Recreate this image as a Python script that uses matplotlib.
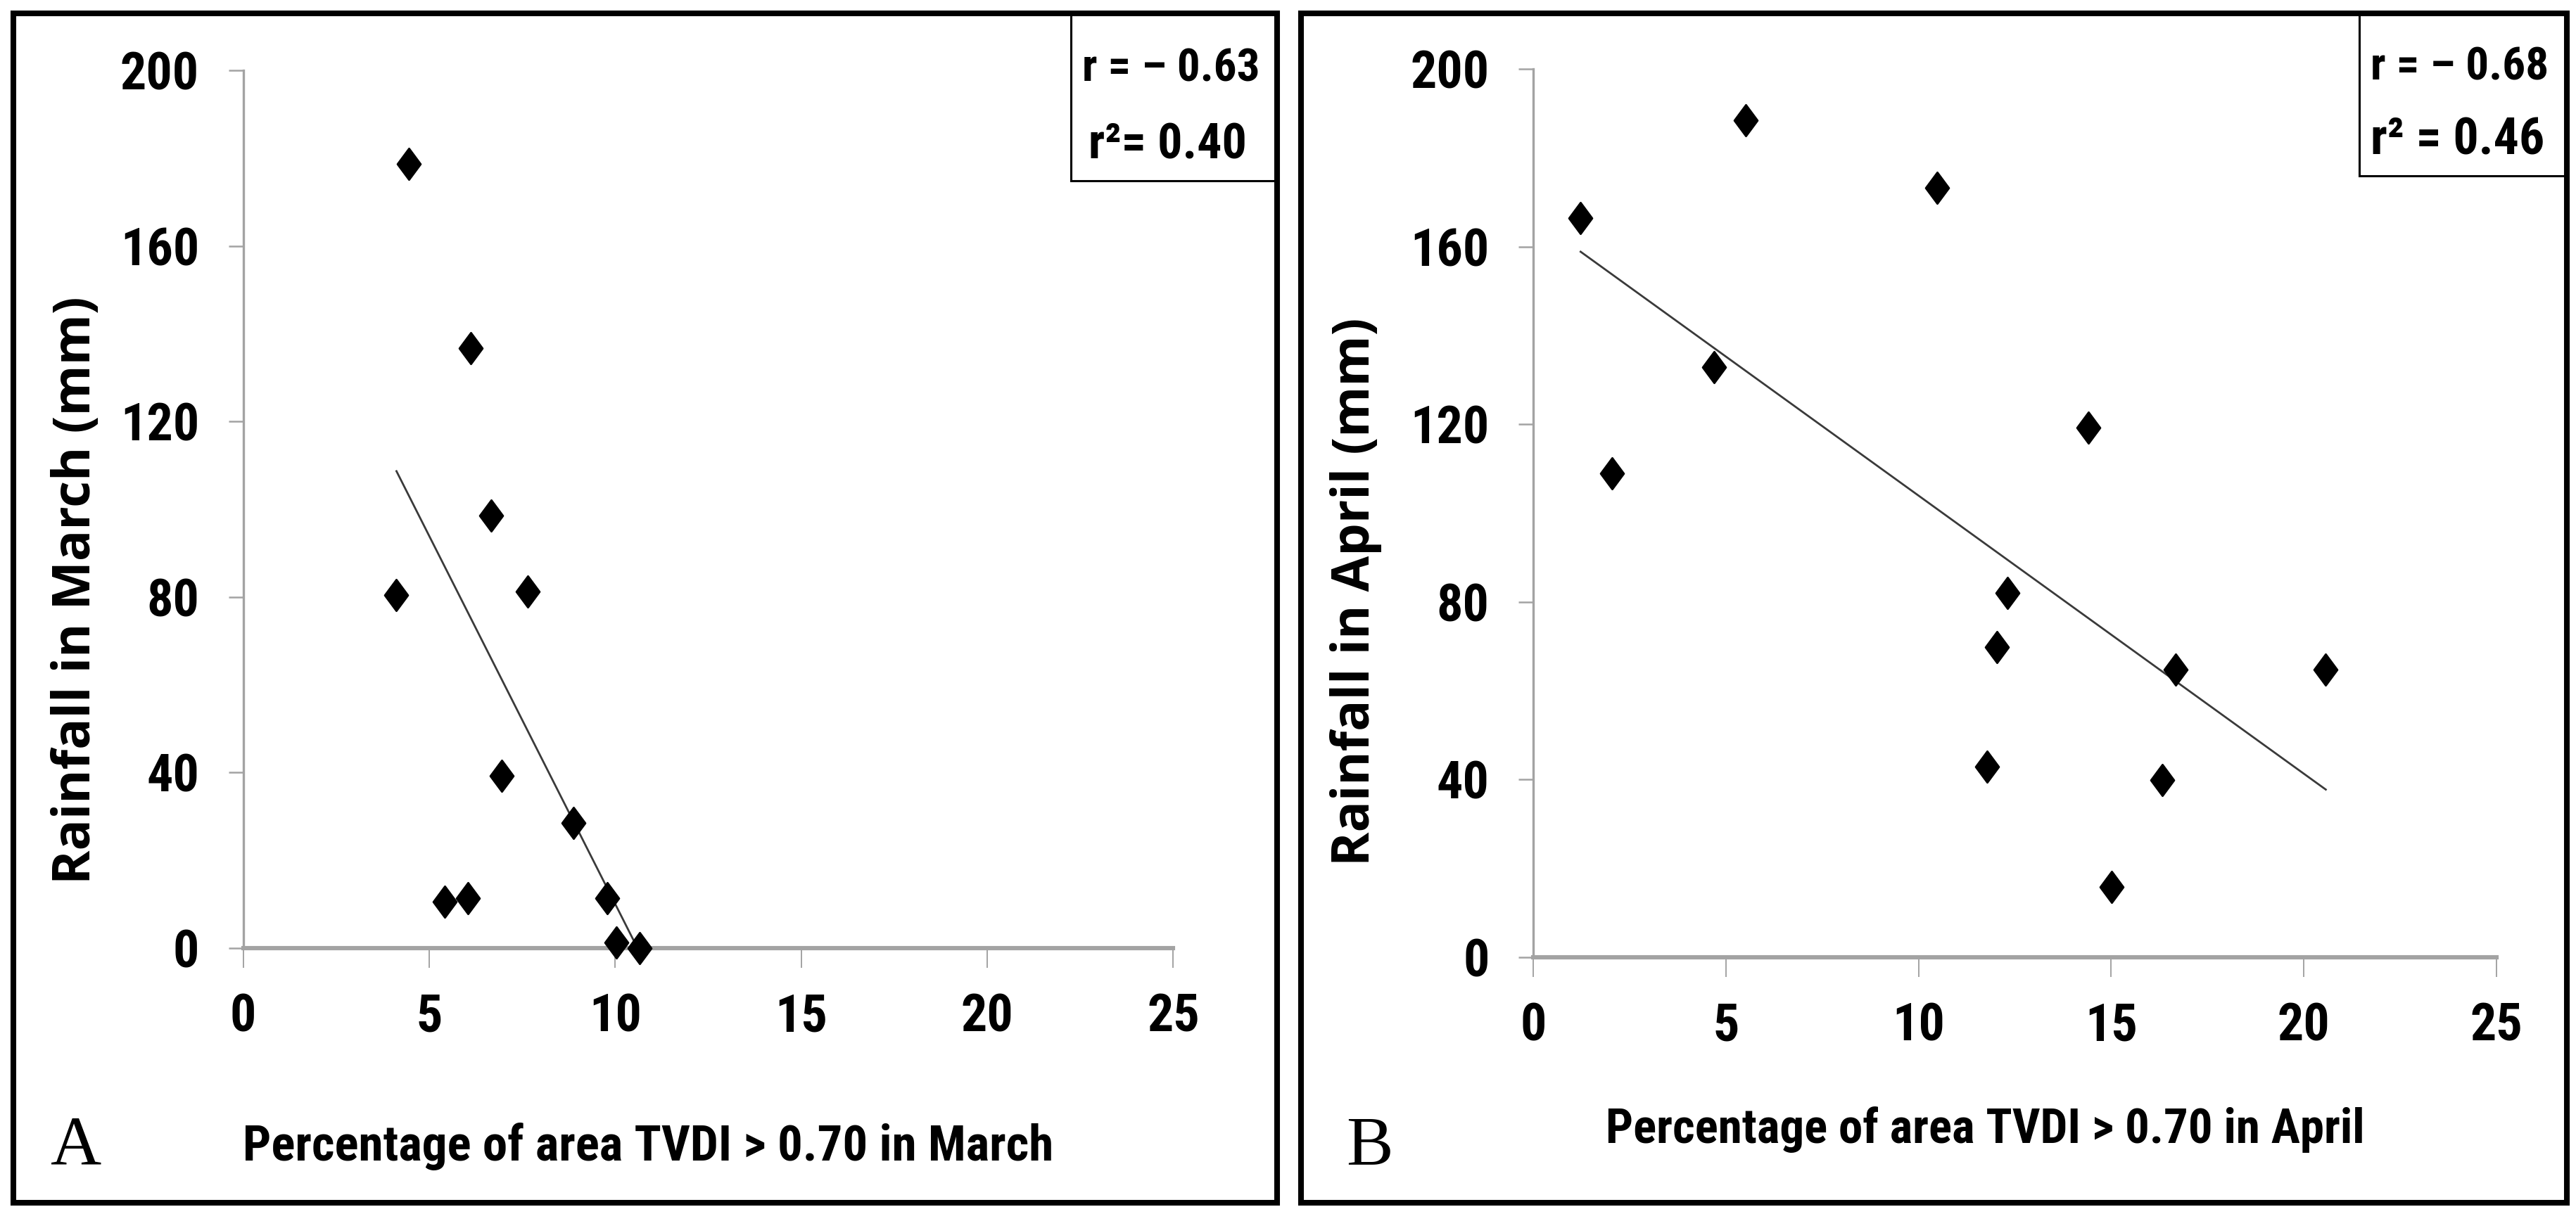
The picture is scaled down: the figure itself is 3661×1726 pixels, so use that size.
import os
import matplotlib
matplotlib.use('Agg')
import matplotlib.pyplot as plt
import numpy as np
from matplotlib.path import Path
from matplotlib.patches import Rectangle
from matplotlib import font_manager as fm

# values
march_pct = [4.46, 6.11, 4.12, 6.67, 7.64, 6.95, 8.88, 5.42, 6.04, 9.78, 10.04, 10.66]
march_rain = [178.7, 136.7, 80.4, 98.6, 81.3, 39.2, 28.6, 10.6, 11.3, 11.3, 1.3, 0.0]
april_pct = [1.23, 2.05, 5.51, 4.69, 10.49, 14.41, 12.31, 12.03, 11.78, 16.68, 16.33, 15.02, 20.57]
april_rain = [166.4, 108.9, 188.4, 132.9, 173.2, 119.2, 82.1, 69.8, 42.9, 64.8, 39.9, 15.9, 64.8]

x_ticks = [0, 5, 10, 15, 20, 25]
y_ticks = [0, 40, 80, 120, 160, 200]

W, H = 3662, 1726


def condensed_bold():
    prefs = ['liberationsansnarrow-bold', 'robotocondensed-bold', 'dejavusanscondensed-bold',
             'opensanscondensed-bold', 'opensans_condensed-bold']
    files = [f.fname for f in fm.fontManager.ttflist]
    for p in prefs:
        for fn in files:
            b = os.path.basename(fn).lower().replace(' ', '')
            if b.startswith(p) and 'italic' not in b and 'oblique' not in b:
                return fm.FontProperties(fname=fn)
    for fn in files:
        b = os.path.basename(fn).lower()
        if ('condensed' in b or 'narrow' in b) and 'bold' in b and 'italic' not in b and 'oblique' not in b:
            return fm.FontProperties(fname=fn)
    return fm.FontProperties(family='Open Sans', weight='bold')


NARROW = condensed_bold()
WIDE = fm.FontProperties(family='Open Sans', weight='bold')
SERIF = fm.FontProperties(family=['Liberation Serif', 'DejaVu Serif'])

diamond = Path([(0, 1), (0.74, 0), (0, -1), (-0.74, 0), (0, 1)],
               [Path.MOVETO, Path.LINETO, Path.LINETO, Path.LINETO, Path.CLOSEPOLY])

GRAY = '#a3a3a3'

fig = plt.figure(figsize=(W / 200, H / 200), dpi=200)
renderer = fig.canvas.get_renderer()


def fx(x):
    return x / W


def fy(y):
    return 1 - y / H


def fit(t, target, vertical=False):
    # scale font so the text spans the target length in pixels
    bb = t.get_window_extent(renderer)
    ext = bb.height if vertical else bb.width
    t.set_fontsize(t.get_fontsize() * target / ext)
    return t.get_fontsize()


# sizes taken from reference extents
probe = fig.text(0, 0, '200', fontproperties=NARROW.copy(), fontsize=27)
TICK_SIZE = fit(probe, 112)
probe.remove()
probe = fig.text(0, 0, 'Rainfall in March (mm)', fontproperties=WIDE.copy(), fontsize=20, rotation=90)
YLAB_SIZE = fit(probe, 835, vertical=True)
probe.remove()


def panel(box, axbox, xs, ys, rbox, rtxt, ylabel, ylab_pos, xlabel, xlab_pos, xlab_w,
          letter, letter_pos):
    # outer frame
    x0, y0, x1, y1 = box
    fig.add_artist(Rectangle((fx(x0), fy(y1)), fx(x1) - fx(x0), fy(y0) - fy(y1),
                             transform=fig.transFigure, fill=False, ec='black', lw=2.9))
    l, t, r, b = axbox
    ax = fig.add_axes([fx(l), fy(b), fx(r) - fx(l), fy(t) - fy(b)])
    ax.set_xlim(0, 25)
    ax.set_ylim(0, 200)
    ax.set_xticks(x_ticks)
    ax.set_yticks(y_ticks)
    for s in ['top', 'right']:
        ax.spines[s].set_visible(False)
    ax.spines['left'].set_color(GRAY)
    ax.spines['left'].set_linewidth(1.2)
    ax.spines['bottom'].set_color(GRAY)
    ax.spines['bottom'].set_linewidth(2.2)
    ax.tick_params(axis='x', direction='out', length=10, width=0.7, color=GRAY, pad=13)
    ax.tick_params(axis='y', direction='out', length=7.5, width=0.9, color=GRAY, pad=15)
    for lab in ax.get_xticklabels() + ax.get_yticklabels():
        lab.set_fontproperties(NARROW)
        lab.set_fontsize(TICK_SIZE)

    coef = np.polyfit(xs, ys, 1)
    xl = np.array([min(xs), max(xs)])
    ax.plot(xl, np.polyval(coef, xl), color='#3a3a3a', lw=1.0, zorder=3)
    ax.plot(xs, ys, linestyle='none', marker=diamond, markersize=16, color='black',
            clip_on=False, zorder=4)

    # r box
    bx0, by0, bx1, by1 = rbox
    fig.add_artist(Rectangle((fx(bx0), fy(by1)), fx(bx1) - fx(bx0), fy(by0) - fy(by1),
                             transform=fig.transFigure, fill=False, ec='black', lw=1.1))
    for (tx, ty), s, wpx in rtxt:
        tt = fig.text(fx(tx), fy(ty), s, ha='center', va='baseline',
                      fontproperties=NARROW.copy(), fontsize=24)
        fit(tt, wpx)

    fig.text(fx(ylab_pos[0]), fy(ylab_pos[1]), ylabel, rotation=90, ha='center', va='bottom',
             fontproperties=WIDE.copy(), fontsize=YLAB_SIZE)
    tt = fig.text(fx(xlab_pos[0]), fy(xlab_pos[1]), xlabel, ha='center', va='baseline',
                  fontproperties=NARROW.copy(), fontsize=23)
    fit(tt, xlab_w)
    fig.text(fx(letter_pos[0]), fy(letter_pos[1]), letter, ha='left', va='baseline',
             fontproperties=SERIF, fontsize=36)
    return ax


panel((19, 19, 1815, 1710), (345.6, 100, 1667.5, 1348), march_pct, march_rain,
      (1522, 19, 1815, 257),
      [((1664, 115), 'r = \u2013 0.63', 252), ((1660, 225), 'r\u00b2= 0.40', 225)],
      'Rainfall in March (mm)', (109, 1257),
      'Percentage of area TVDI > 0.70 in March', (921, 1650), 1151,
      'A', (72, 1655))

panel((1849, 19, 3648, 1710), (2179, 98, 3548, 1361), april_pct, april_rain,
      (3353, 19, 3648, 250),
      [((3496, 113), 'r = \u2013 0.68', 253), ((3493, 220), 'r\u00b2 = 0.46', 247)],
      'Rainfall in April (mm)', (1927, 1231),
      'Percentage of area TVDI > 0.70 in April', (2821, 1625), 1079,
      'B', (1913, 1655))

fig.savefig('out.png', dpi=200)
